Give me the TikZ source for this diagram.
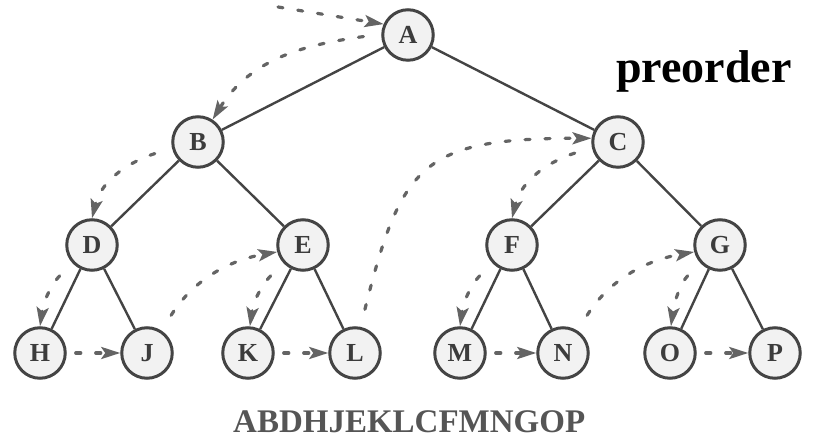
\documentclass[tikz,border=0pt]{standalone}
\usepackage{fontspec}
\setmainfont{Liberation Serif}
\usetikzlibrary{arrows.meta}
\definecolor{ink}{HTML}{444444}
\definecolor{nodefill}{HTML}{F2F2F2}
\definecolor{nodetext}{HTML}{3C3C3C}
\definecolor{travgray}{HTML}{646464}
\definecolor{seqgray}{HTML}{555555}
\begin{document}
\begin{tikzpicture}[x=1pt,y=1pt,
  vertex/.style={circle, draw=ink, line width=3pt, fill=nodefill,
    minimum size=50.5pt, inner sep=0pt,
    font=\fontsize{26}{26}\selectfont\bfseries, text=nodetext},
  edge/.style={draw=ink, line width=2.4pt},
  trav/.style={draw=travgray, line width=3.2pt, line cap=round,
    dash pattern=on 5pt off 15pt,
    -{Stealth[length=19pt,width=12pt,inset=4pt]},
    shorten <=18pt},
  hop/.style={trav, shorten <=9pt}]
\useasboundingbox (0,0) rectangle (817,444);

% tree nodes
\node[vertex] (A) at (408,409) {A};
\node[vertex] (B) at (198,302) {B};
\node[vertex] (C) at (618,302) {C};
\node[vertex] (D) at (92,199)  {D};
\node[vertex] (E) at (303,199) {E};
\node[vertex] (F) at (512,199) {F};
\node[vertex] (G) at (720,199) {G};
\node[vertex] (H) at (40,91)   {H};
\node[vertex] (J) at (147,91)  {J};
\node[vertex] (K) at (248,91)  {K};
\node[vertex] (L) at (355,91)  {L};
\node[vertex] (M) at (460,91)  {M};
\node[vertex] (N) at (563,91)  {N};
\node[vertex] (O) at (670,91)  {O};
\node[vertex] (P) at (775,91)  {P};

% tree edges
\draw[edge] (A) -- (B);
\draw[edge] (A) -- (C);
\draw[edge] (B) -- (D);
\draw[edge] (B) -- (E);
\draw[edge] (C) -- (F);
\draw[edge] (C) -- (G);
\draw[edge] (D) -- (H);
\draw[edge] (D) -- (J);
\draw[edge] (E) -- (K);
\draw[edge] (E) -- (L);
\draw[edge] (F) -- (M);
\draw[edge] (F) -- (N);
\draw[edge] (G) -- (O);
\draw[edge] (G) -- (P);

% preorder walk
\coordinate (start) at (278,437);
\draw[trav, shorten <=0pt] (start) -- (A.156);
\draw[trav] (A.178) to[out=188,in=58] (B.57);
\draw[trav] (B.193) to[out=198,in=76] (D.90);
\draw[trav] (D.222) to[out=226,in=82] (H.90);
\draw[hop]  (H) -- (J);
\draw[trav] (J.57) to[out=58,in=190] (E.195);
\draw[trav] (E.222) to[out=226,in=82] (K.86);
\draw[hop]  (K) -- (L);
\draw[trav] (L.78) to[out=76,in=180,looseness=1.45] (C.172);
\draw[trav] (C.192) to[out=198,in=76] (F.90);
\draw[trav] (F.222) to[out=226,in=82] (M.90);
\draw[hop]  (M) -- (N);
\draw[trav] (N.57) to[out=58,in=190] (G.195);
\draw[trav] (G.222) to[out=226,in=82] (O.88);
\draw[hop]  (O) -- (P);

% labels
\node[anchor=base west, inner sep=0pt, font=\fontsize{46}{46}\selectfont\bfseries]
  (title) at (616,361) {preorder};
\node[anchor=base west, inner sep=0pt, text=seqgray,
  font=\fontsize{33}{33}\selectfont\bfseries]
  (seq) at (233,11) {ABDHJEKLCFMNGOP};
\end{tikzpicture}
\end{document}
